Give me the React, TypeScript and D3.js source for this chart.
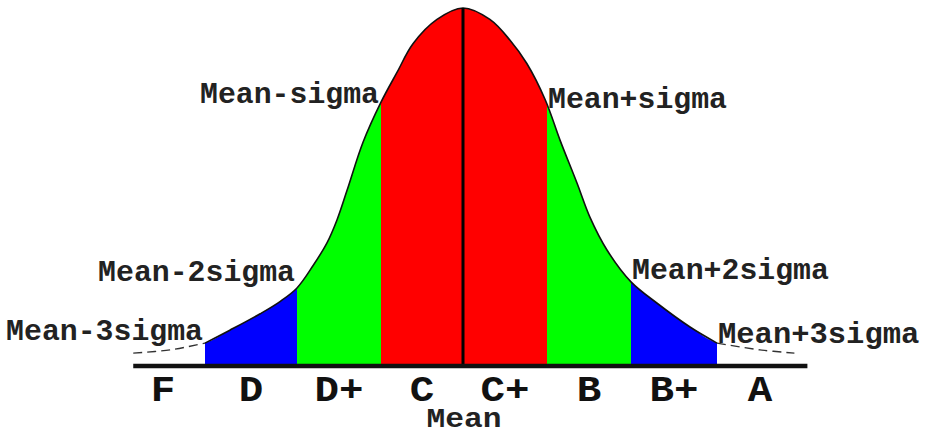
import React from "react";
import * as d3 from "d3";

// Sigma boundaries of the grading bands (in units of standard deviation from the mean)
const sigmaStops = [-3, -2, -1, 0, 1, 2, 3];

// Bell curve outline: offset from the mean (sigma units) and relative height (peak = 1)
const curveZ = [
  -3.78, -3.38, -3, -2.73, -2.4, -2.185, -2, -1.81, -1.643, -1.524, -1.405, -1.214, -1, -0.805,
  -0.61, -0.317, 0, 0.32, 0.56, 0.76, 0.98, 1.155, 1.357, 1.512, 1.714, 2, 2.3, 2.686, 3, 3.5, 3.9,
];
const curveH = [
  0.036, 0.045, 0.064, 0.1, 0.146, 0.18, 0.218, 0.28, 0.344, 0.408, 0.49, 0.625, 0.737, 0.82,
  0.9, 0.968, 1, 0.968, 0.91, 0.845, 0.743, 0.631, 0.511, 0.415, 0.324, 0.235, 0.176, 0.109,
  0.064, 0.045, 0.036,
];

// Shaded bands between sigma boundaries
const bandFrom = [-3, -2, -1, 1, 2];
const bandTo = [-2, -1, 1, 2, 3];
const bandColor = ["#0000ff", "#00ff00", "#ff0000", "#00ff00", "#0000ff"];

// Letter grades, centred in each band
const gradeLabels = ["F", "D", "D+", "C", "C+", "B", "B+", "A"];
const gradeCenters = [-3.5, -2.5, -1.5, -0.5, 0.5, 1.5, 2.5, 3.5];

// Boundary annotations
const boundaryLabels = [
  "Mean-3sigma",
  "Mean-2sigma",
  "Mean-sigma",
  "Mean+sigma",
  "Mean+2sigma",
  "Mean+3sigma",
];
const boundaryZ = [-3, -2, -1, 1, 2, 3];

const W = 932;
const H = 435;
const BASE_Y = 366;
const PEAK_Y = 8;
const FONT = "'Liberation Mono', 'Courier New', monospace";

export default function App() {
  const x = d3.scaleLinear().domain(sigmaStops).range([205, 297, 381, 463, 547, 631, 717]);
  const y = d3.scaleLinear().domain([0, 1]).range([BASE_Y, PEAK_Y]);

  const pts: [number, number][] = curveZ.map((z, i) => [z, curveH[i]]);
  const interp = d3.scaleLinear().domain(curveZ).range(curveH);

  const smooth = d3.curveCatmullRom.alpha(0.5);

  const area = d3
    .area<[number, number]>()
    .x((d) => x(d[0]))
    .y0(BASE_Y - 2)
    .y1((d) => y(d[1]))
    .curve(smooth);

  const line = d3
    .line<[number, number]>()
    .x((d) => x(d[0]))
    .y((d) => y(d[1]))
    .curve(smooth);

  const inner = pts.filter((d) => d[0] >= -3 && d[0] <= 3);
  const leftTail = pts.filter((d) => d[0] <= -3);
  const rightTail = pts.filter((d) => d[0] >= 3);

  const areaPath = area(pts) || "";

  // vertical offset of each annotation from the curve at its boundary
  const labelDy = [-3, -7, 1, 3, -3, 0];

  return (
    <svg
      width={W}
      height={H}
      style={{ position: "absolute", left: 0, top: 0, background: "#fff" }}
      fontFamily={FONT}
    >
      <defs>
        {bandFrom.map((z0, i) => (
          <clipPath id={`band-${i}`} key={i}>
            <rect x={x(z0)} y={0} width={x(bandTo[i]) - x(z0)} height={H} />
          </clipPath>
        ))}
      </defs>

      {bandFrom.map((_, i) => (
        <path key={i} d={areaPath} fill={bandColor[i]} clipPath={`url(#band-${i})`} />
      ))}

      {/* bell curve outline */}
      <path d={line(inner) || ""} fill="none" stroke="#111" strokeWidth={1.6} />
      <path
        d={line(leftTail) || ""}
        fill="none"
        stroke="#333"
        strokeWidth={1.4}
        strokeDasharray="9 5"
      />
      <path
        d={line(rightTail) || ""}
        fill="none"
        stroke="#333"
        strokeWidth={1.4}
        strokeDasharray="9 5"
      />

      {/* mean line */}
      <line x1={x(0)} x2={x(0)} y1={y(1)} y2={BASE_Y} stroke="#000" strokeWidth={3} />

      {/* baseline */}
      <line
        x1={x(curveZ[0])}
        x2={x(curveZ[curveZ.length - 1]) + 13}
        y1={BASE_Y}
        y2={BASE_Y}
        stroke="#111"
        strokeWidth={4.5}
      />

      {/* boundary annotations */}
      {boundaryLabels.map((t, i) => {
        const z = boundaryZ[i];
        const left = z < 0;
        const px = x(z) + (left ? -2 : 1);
        const py = y(interp(z)) + labelDy[i];
        const len = t.length * (i === 5 ? 18.3 : 17.9);
        return (
          <text
            key={t}
            x={left ? px - len : px}
            y={py}
            fontSize={29}
            fontWeight="bold"
            fill="#222"
            textLength={len}
            lengthAdjust="spacingAndGlyphs"
          >
            {t}
          </text>
        );
      })}

      {/* grade letters */}
      {gradeLabels.map((g, i) => (
        <text
          key={g}
          x={x(gradeCenters[i]) + (i === 0 ? 4 : 0)}
          y={401}
          fontSize={36}
          fontWeight="bold"
          fill="#111"
          textAnchor="middle"
          textLength={g.length * 24.5}
          lengthAdjust="spacingAndGlyphs"
        >
          {g}
        </text>
      ))}

      <text
        x={x(0) + 1}
        y={427}
        fontSize={27}
        fontWeight="bold"
        fill="#222"
        textAnchor="middle"
        textLength={75}
        lengthAdjust="spacingAndGlyphs"
      >
        Mean
      </text>
    </svg>
  );
}
